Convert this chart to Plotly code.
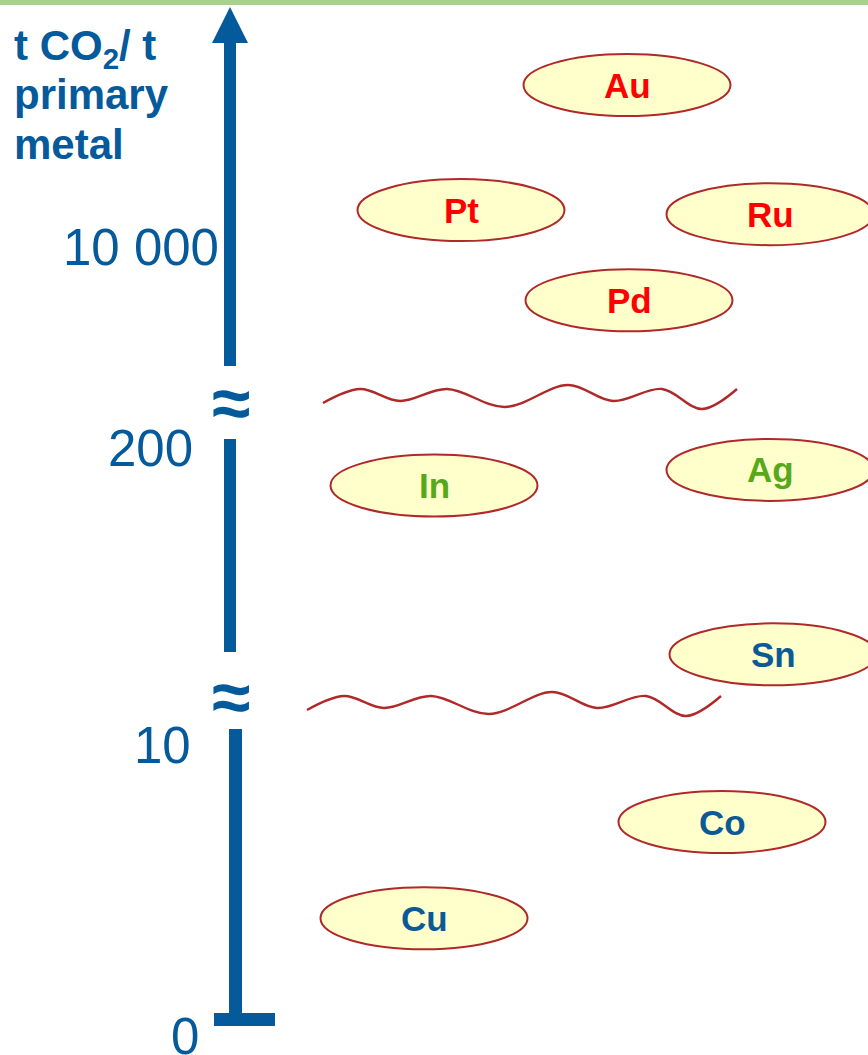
import numpy as np
import plotly.graph_objects as go

# ---- data ----
metals = ["Au", "Pt", "Ru", "Pd", "In", "Ag", "Sn", "Co", "Cu"]
co2_per_t = [17900, 11800, 11600, 7400, 176, 186, 68, 7.2, 3.7]   # t CO2 / t primary metal
metal_group = ["precious", "precious", "precious", "precious",
               "minor", "minor", "base", "base", "base"]
tick_values = [0, 10, 200, 10000]
tick_labels = ["0", "10", "200", "10 000"]
title_lines = ["t CO<sub>2</sub>/ t", "primary", "metal"]

# ---- layout / styling ----
W, H = 868, 1055
BLUE = "#045a9a"
RED_LINE = "#b0292a"
FONT = "Liberation Sans, Arial"
group_color = {"precious": "#ff0000", "minor": "#58a81c", "base": "#0b5a96"}
metal_x = [627, 461, 770, 629, 434, 770, 773, 722, 424]   # horizontal placement of bubbles

# broken-axis scale: value -> vertical axis coordinate (piecewise linear per segment)
scale_vals = [0, 10, 200, 10000, 20000]
scale_pos = [35, 310, 607, 808, 1013]
def ypos(v):
    return float(np.interp(v, scale_vals, scale_pos))

fig = go.Figure()

# wavy break lines (decorative)
wave_x = [323, 360, 400, 447, 505, 568, 613, 662, 702, 737]
wave_y = [403, 389, 401, 389, 407, 385, 401, 389, 409, 389]
for dx, dy in [(0, 0), (-16, 307)]:
    fig.add_trace(go.Scatter(
        x=[x + dx for x in wave_x], y=[H - (y + dy) for y in wave_y],
        mode="lines", line=dict(color=RED_LINE, width=2.4, shape="spline", smoothing=1.0),
        hoverinfo="skip", showlegend=False))

shapes = []
# top green band
shapes.append(dict(type="rect", xref="x", yref="y", x0=0, x1=W, y0=H - 5, y1=H,
                   fillcolor="#a9d18e", line=dict(width=0), layer="below"))

# axis segments
def vseg(x0, x1, ytop, ybot):
    return dict(type="rect", xref="x", yref="y", x0=x0, x1=x1, y0=H - ybot, y1=H - ytop,
                fillcolor=BLUE, line=dict(width=0))
shapes.append(vseg(224, 236, 40, 366))
shapes.append(vseg(224, 236, 439, 652))
shapes.append(vseg(229, 242, 729, 1020))
# foot
shapes.append(dict(type="rect", xref="x", yref="y", x0=214, x1=275, y0=H - 1026, y1=H - 1013,
                   fillcolor=BLUE, line=dict(width=0)))
# arrow head
shapes.append(dict(type="path", xref="x", yref="y",
                   path=f"M 212,{H-43} L 230,{H-7} L 248,{H-43} Z",
                   fillcolor=BLUE, line=dict(width=0)))

# ellipses
for m, v, g, x in zip(metals, co2_per_t, metal_group, metal_x):
    yc = ypos(v)
    shapes.append(dict(type="circle", xref="x", yref="y",
                       x0=x - 103.5, x1=x + 103.5, y0=yc - 31, y1=yc + 31,
                       fillcolor="#ffffcc", line=dict(color=RED_LINE, width=2)))

annotations = []
for m, v, g, x in zip(metals, co2_per_t, metal_group, metal_x):
    annotations.append(dict(x=x, y=ypos(v), xref="x", yref="y", text=f"<b>{m}</b>",
                            showarrow=False, xanchor="center", yanchor="middle",
                            font=dict(family=FONT, size=35, color=group_color[g])))

# tick labels
tick_x = [185, 193, 195, 221]
tick_anchor = ["center", "right", "right", "right"]
tick_shift = [-16, 0, 0, 0]
for val, lab, tx, ta, ts in zip(tick_values, tick_labels, tick_x, tick_anchor, tick_shift):
    annotations.append(dict(x=tx, y=ypos(val), xref="x", yref="y", text=lab,
                            showarrow=False, xanchor=ta, yanchor="middle", yshift=ts,
                            font=dict(family=FONT, size=51, color=BLUE)))

# break marks
for yb in [403, 697]:
    annotations.append(dict(x=231, y=H - yb, xref="x", yref="y", text="<b>≈</b>",
                            showarrow=False, xanchor="center", yanchor="middle",
                            font=dict(family=FONT, size=70, color=BLUE)))

# axis title (one annotation per line for exact spacing)
for i, line in enumerate(title_lines):
    annotations.append(dict(x=12, y=H - (44 + 50 * i) + (-4 if i == 0 else 0), xref="x", yref="y",
                            text=f"<b>{line}</b>",
                            showarrow=False, xanchor="left", yanchor="middle", align="left",
                            font=dict(family=FONT, size=42, color=BLUE)))

fig.update_layout(
    width=W, height=H, margin=dict(l=0, r=0, t=0, b=0),
    paper_bgcolor="white", plot_bgcolor="white",
    xaxis=dict(range=[0, W], visible=False, fixedrange=True),
    yaxis=dict(range=[0, H], visible=False, fixedrange=True),
    shapes=shapes, annotations=annotations, showlegend=False,
)
fig.write_html("out.html", config={"displayModeBar": False},
               post_script="document.body.style.margin='0';document.body.style.overflow='hidden';")
